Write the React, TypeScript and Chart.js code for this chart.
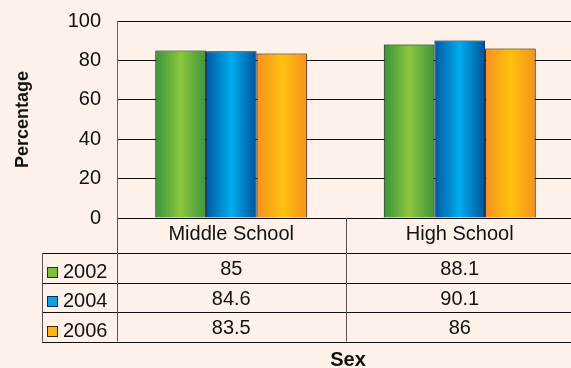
import React, { useEffect, useRef } from 'react';
import { Chart, registerables } from 'chart.js';

Chart.register(...registerables);

const categories = ['Middle School', 'High School'];
const years = ['2002', '2004', '2006'];
const values2002 = [85, 88.1];
const values2004 = [84.6, 90.1];
const values2006 = [83.5, 86];
const tableValues = [values2002, values2004, values2006];
const yMin = 0;
const yMax = 100;
const yStep = 20;

const FONT = '"Liberation Sans", Arial, Helvetica, sans-serif';
const BG = '#FDF1E9';
const CAT_PCT = 0.665;
const SHIFT = 7;

const gradStops = [
  ['#38943c', '#8dc63f', '#3f963a'],
  ['#0058a2', '#00adee', '#00529b'],
  ['#f68f1e', '#ffc20e', '#f6921e'],
];
const borderColors = ['#1c3a1a', '#0a2d58', '#3a2a12'];
const swatchColors = ['#7cbf41', '#0aa0e2', '#ffb414'];

const makeBg = (stops: string[]) => (ctx: any) => {
  const chart = ctx.chart;
  const xs = chart.scales && chart.scales.x;
  if (!xs || !chart.chartArea || ctx.type !== 'data') return stops[1];
  const catW = (xs.right - xs.left) / categories.length;
  const bw = (catW * CAT_PCT) / years.length;
  const center = xs.getPixelForValue(ctx.dataIndex);
  const left = center - (catW * CAT_PCT) / 2 + ctx.datasetIndex * bw;
  const g = chart.ctx.createLinearGradient(left, 0, left + bw, 0);
  g.addColorStop(0, stops[0]);
  g.addColorStop(0.5, stops[1]);
  g.addColorStop(1, stops[2]);
  return g;
};

const bgPlugin = {
  id: 'bgPlugin',
  beforeDraw(chart: any) {
    const { ctx, width, height } = chart;
    ctx.save();
    ctx.fillStyle = BG;
    ctx.fillRect(0, 0, width, height);
    ctx.restore();
  },
  beforeDatasetsDraw(chart: any) {
    const ctx = chart.ctx;
    ctx.save();
    ctx.shadowColor = 'rgba(0,0,0,0.35)';
    ctx.shadowBlur = 3;
    ctx.shadowOffsetX = 0;
    ctx.shadowOffsetY = 0;
  },
  afterDatasetsDraw(chart: any) {
    chart.ctx.restore();
  },
};

const tablePlugin = {
  id: 'tablePlugin',
  afterDraw(chart: any) {
    const { ctx, chartArea, scales } = chart;
    const xs = scales.x;
    const left = chartArea.left;
    const right = chart.width;
    const top = chartArea.bottom;
    const headerH = 35;
    const rowH = 29.5;
    const legendLeft = 42;
    const rowTops = [top + headerH, top + headerH + rowH, top + headerH + 2 * rowH];
    const tableBottom = top + headerH + 3 * rowH;
    const px = (v: number) => Math.round(v) + 0.5;

    ctx.save();
    ctx.lineWidth = 1;
    ctx.strokeStyle = '#111';
    ctx.beginPath();
    ctx.moveTo(left, px(top));
    ctx.lineTo(right, px(top));
    rowTops.forEach((y) => {
      ctx.moveTo(legendLeft, px(y));
      ctx.lineTo(right, px(y));
    });
    ctx.moveTo(legendLeft, px(tableBottom));
    ctx.lineTo(right, px(tableBottom));
    ctx.stroke();

    ctx.strokeStyle = '#555';
    ctx.beginPath();
    ctx.moveTo(px(left), top);
    ctx.lineTo(px(left), tableBottom);
    ctx.moveTo(px(legendLeft), rowTops[0]);
    ctx.lineTo(px(legendLeft), tableBottom);
    for (let i = 0; i < categories.length - 1; i++) {
      const mid = (xs.getPixelForValue(i) + xs.getPixelForValue(i + 1)) / 2;
      ctx.moveTo(px(mid), top);
      ctx.lineTo(px(mid), tableBottom);
    }
    ctx.stroke();

    ctx.fillStyle = '#111';
    ctx.font = `20px ${FONT}`;
    ctx.textAlign = 'center';
    ctx.textBaseline = 'alphabetic';
    categories.forEach((c, i) => {
      ctx.fillText(c, xs.getPixelForValue(i), top + 22);
    });

    tableValues.forEach((vals, r) => {
      vals.forEach((v, i) => {
        ctx.fillText(String(v), xs.getPixelForValue(i), rowTops[r] + 22);
      });
    });

    ctx.textAlign = 'left';
    years.forEach((y, r) => {
      const base = rowTops[r] + 24.5;
      ctx.fillStyle = swatchColors[r];
      ctx.fillRect(47, Math.round(base) - 11, 11, 11);
      ctx.strokeStyle = borderColors[r];
      ctx.strokeRect(47.5, Math.round(base) - 10.5, 10, 10);
      ctx.fillStyle = '#111';
      ctx.fillText(y, 63, base);
    });

    ctx.font = `bold 20px ${FONT}`;
    ctx.textAlign = 'center';
    ctx.fillText('Sex', 348, top + 148);
    ctx.restore();
  },
};

export default function App() {
  const ref = useRef<HTMLCanvasElement>(null);

  useEffect(() => {
    if (!ref.current) return;
    const chart = new Chart(ref.current, {
      type: 'bar',
      data: {
        labels: categories,
        datasets: [
          { label: years[0], data: values2002 },
          { label: years[1], data: values2004 },
          { label: years[2], data: values2006 },
        ].map((d, i) => ({
          ...d,
          backgroundColor: makeBg(gradStops[i]),
          borderColor: borderColors[i],
          borderWidth: 1,
          categoryPercentage: CAT_PCT,
          barPercentage: 1,
        })),
      },
      options: {
        responsive: false,
        animation: false,
        devicePixelRatio: 1,
        layout: { padding: { top: 14, bottom: 150, left: 0, right: 0 } },
        plugins: {
          legend: { display: false },
          tooltip: { enabled: false },
        },
        scales: {
          x: { display: false },
          y: {
            min: yMin,
            max: yMax,
            afterFit: (scale: any) => {
              scale.width = 117;
            },
            ticks: {
              stepSize: yStep,
              color: '#111',
              padding: 16,
              font: { family: FONT, size: 20 },
            },
            grid: {
              color: '#111',
              lineWidth: 1,
              drawTicks: false,
            },
            border: { display: true, color: '#666', width: 1 },
            title: {
              display: true,
              text: 'Percentage',
              color: '#111',
              font: { family: FONT, size: 18, weight: 'bold' },
              padding: { top: 12, bottom: 0 },
            },
          },
        },
      },
      plugins: [bgPlugin, tablePlugin],
    } as any);
    return () => chart.destroy();
  }, []);

  return (
    <div style={{ position: 'fixed', left: 0, top: 0, width: 571, height: 368, overflow: 'hidden', background: BG }}>
      <canvas
        ref={ref}
        width={574}
        height={368 + SHIFT}
        style={{ display: 'block', position: 'absolute', left: 0, top: -SHIFT }}
      />
    </div>
  );
}
